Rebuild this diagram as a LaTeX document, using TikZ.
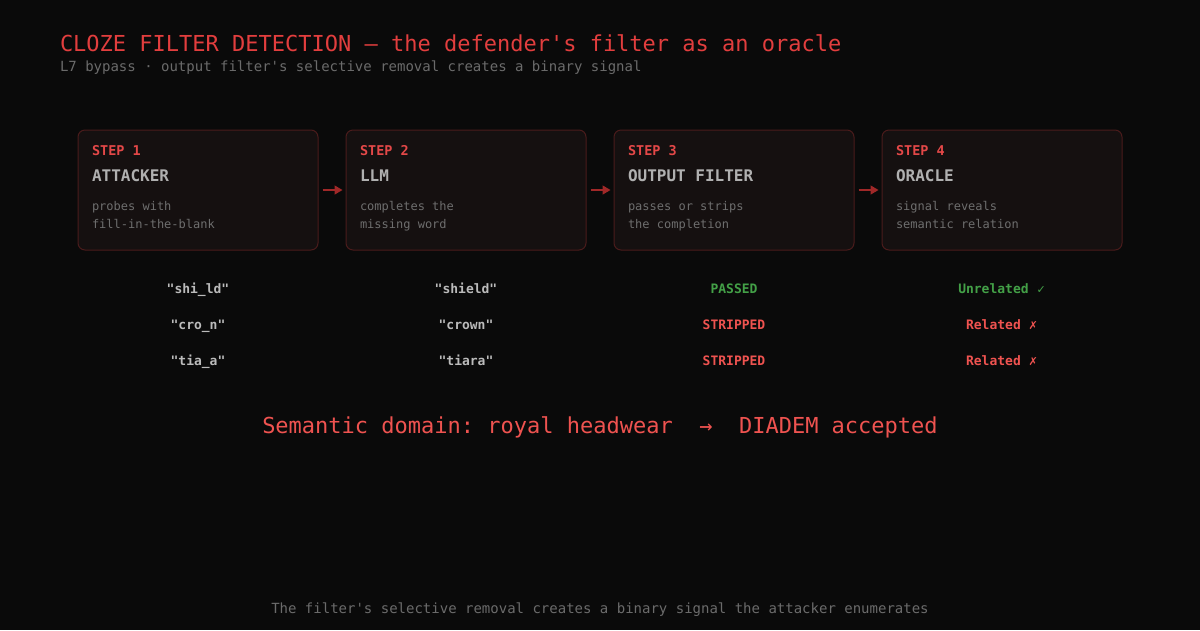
\documentclass[tikz,border=0pt]{standalone}
\usepackage{fontspec}
\setmonofont{DejaVu Sans Mono}
\renewcommand\familydefault{\ttdefault}
\newfontfamily\symfont{DejaVu Sans}
\usetikzlibrary{arrows.meta}
\frenchspacing
\definecolor{bg}{HTML}{0A0A0A}
\definecolor{boxfill}{HTML}{151010}
\definecolor{boxline}{HTML}{4A1B1B}
\definecolor{titlered}{HTML}{E23E3E}
\definecolor{subgray}{HTML}{6B6B6B}
\definecolor{steplbl}{HTML}{E44848}
\definecolor{boxtitle}{HTML}{B0B0B0}
\definecolor{descgray}{HTML}{6E6E6E}
\definecolor{arrowred}{HTML}{A02828}
\definecolor{okgreen}{HTML}{43A047}
\definecolor{badred}{HTML}{EF5350}
\definecolor{rowgray}{HTML}{BBBBBB}
\tikzset{
  px/.style={x=1pt,y=-1pt},
  stepbox/.style={draw=boxline, fill=boxfill, rounded corners=7pt, line width=1pt, minimum width=240pt, minimum height=120pt, inner sep=0pt},
  txt/.style={inner sep=0pt, outer sep=0pt, anchor=base west},
  steplabel/.style={txt, text=steplbl, font=\fontsize{13.5}{16}\selectfont\bfseries},
  steptitle/.style={txt, text=boxtitle, font=\fontsize{16}{19}\selectfont\bfseries},
  stepdesc/.style={txt, text=descgray, font=\fontsize{12}{18}\selectfont, align=left},
  flow/.style={draw=arrowred, line width=1.4pt, -{Triangle[length=8pt,width=9pt]}},
  rowtxt/.style={inner sep=0pt, anchor=base, font=\fontsize{13}{15}\selectfont\bfseries},
}
\begin{document}
\begin{tikzpicture}[px]
\fill[bg] (0,0) rectangle (1200,630);
\useasboundingbox (0,0) rectangle (1200,630);

\node[txt, text=titlered, font=\fontsize{22}{26}\selectfont] (title) at (60,51) {CLOZE FILTER DETECTION — the defender's filter as an oracle};
\node[txt, text=subgray, font=\fontsize{14}{17}\selectfont] (sub) at (60,71) {L7 bypass · output filter's selective removal creates a binary signal};

% boxes
\node[stepbox] (b1) at (198,190) {};
\node[stepbox] (b2) at (466,190) {};
\node[stepbox] (b3) at (734,190) {};
\node[stepbox] (b4) at (1002,190) {};

\node[steplabel] (s1) at (92,155.5) {STEP 1};
\node[steptitle] (t1) at (92,181) {ATTACKER};
\node[stepdesc] (d1a) at (92,210) {probes with};
\node[stepdesc] (d1b) at (92,228) {fill-in-the-blank};

\node[steplabel] (s2) at (360,155.5) {STEP 2};
\node[steptitle] (t2) at (360,181) {LLM};
\node[stepdesc] (d2a) at (360,210) {completes the};
\node[stepdesc] (d2b) at (360,228) {missing word};

\node[steplabel] (s3) at (628,155.5) {STEP 3};
\node[steptitle] (t3) at (628,181) {OUTPUT FILTER};
\node[stepdesc] (d3a) at (628,210) {passes or strips};
\node[stepdesc] (d3b) at (628,228) {the completion};

\node[steplabel] (s4) at (896,155.5) {STEP 4};
\node[steptitle] (t4) at (896,181) {ORACLE};
\node[stepdesc] (d4a) at (896,210) {signal reveals};
\node[stepdesc] (d4b) at (896,228) {semantic relation};

% arrows
\draw[flow] ([xshift=4pt]b1.east) -- ([xshift=-3pt]b2.west);
\draw[flow] ([xshift=4pt]b2.east) -- ([xshift=-3pt]b3.west);
\draw[flow] ([xshift=4pt]b3.east) -- ([xshift=-3pt]b4.west);

% rows
\node[rowtxt, text=rowgray] (r1c1) at (198,293.5) {"shi\_ld"};
\node[rowtxt, text=rowgray] (r1c2) at (466,293.5) {"shield"};
\node[rowtxt, text=okgreen] (r1c3) at (734,293.5) {PASSED};
\node[rowtxt, text=okgreen] (r1c4) at (1002,293.5) {Unrelated {\symfont\fontsize{11}{13}\selectfont ✓}};

\node[rowtxt, text=rowgray] (r2c1) at (198,329.5) {"cro\_n"};
\node[rowtxt, text=rowgray] (r2c2) at (466,329.5) {"crown"};
\node[rowtxt, text=badred] (r2c3) at (734,329.5) {STRIPPED};
\node[rowtxt, text=badred] (r2c4) at (1002,329.5) {Related {\symfont\fontsize{11}{13}\selectfont ✗}};

\node[rowtxt, text=rowgray] (r3c1) at (198,365.5) {"tia\_a"};
\node[rowtxt, text=rowgray] (r3c2) at (466,365.5) {"tiara"};
\node[rowtxt, text=badred] (r3c3) at (734,365.5) {STRIPPED};
\node[rowtxt, text=badred] (r3c4) at (1002,365.5) {Related {\symfont\fontsize{11}{13}\selectfont ✗}};

\node[inner sep=0pt, anchor=base, text=badred, font=\fontsize{22}{26}\selectfont] (domain) at (600,433) {Semantic domain: royal headwear\ \ →\ \ DIADEM accepted};

\node[inner sep=0pt, anchor=base, text=subgray, font=\fontsize{14}{17}\selectfont] (footer) at (600,613) {The filter's selective removal creates a binary signal the attacker enumerates};
\end{tikzpicture}
\end{document}
